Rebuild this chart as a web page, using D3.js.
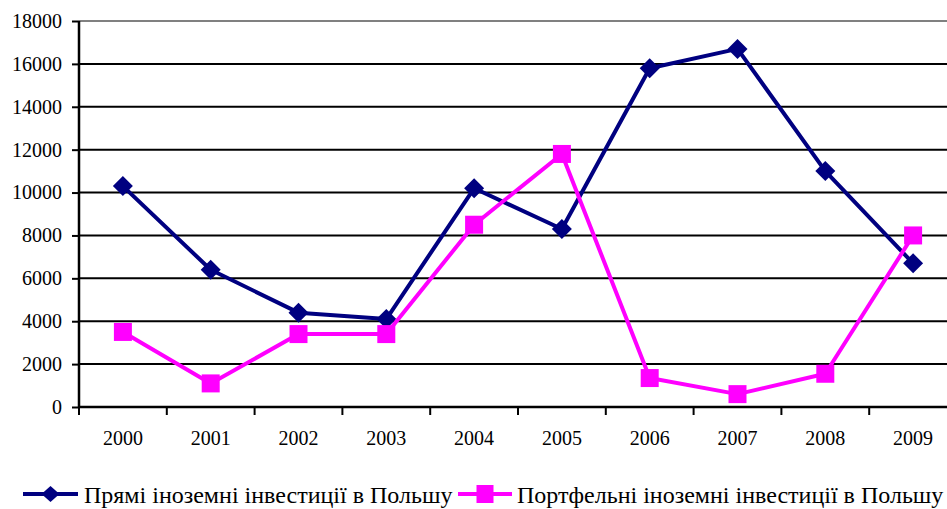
<!DOCTYPE html>
<html>
<head>
<meta charset="utf-8">
<script src="https://cdn.jsdelivr.net/npm/d3@7"></script>
</head>
<body style="margin:0">
<svg id="chart" width="947" height="509" font-family="Liberation Serif"></svg>
<script>
// Data
const years = ['2000', '2001', '2002', '2003', '2004', '2005', '2006', '2007', '2008', '2009'];
const directValues = [10300, 6400, 4400, 4100, 10200, 8300, 15800, 16700, 11000, 6700];
const portfolioValues = [3500, 1100, 3400, 3400, 8500, 11800, 1350, 600, 1550, 8000];
const yTicks = [0, 2000, 4000, 6000, 8000, 10000, 12000, 14000, 16000, 18000];
const seriesNames = ['Прямі іноземні інвестиції в Польшу', 'Портфельні іноземні інвестиції в Польшу'];

const colors = { direct: '#000080', portfolio: '#FF00FF' };
const serif = 'Liberation Serif';

(function() {
    const svg = d3.select('#chart');
    const plotLeft = 79, plotRight = 957, plotTop = 21, plotBottom = 407;

    const x = d3.scaleBand().domain(years).range([plotLeft, plotRight]);
    const y = d3.scaleLinear().domain([0, 18000]).range([plotBottom, plotTop]);

    // Gridlines
    svg.append('g')
        .selectAll('line')
        .data(yTicks.filter(d => d > 0))
        .enter()
        .append('line')
        .attr('x1', plotLeft)
        .attr('x2', 947)
        .attr('y1', d => y(d))
        .attr('y2', d => y(d))
        .attr('stroke', d => d === 18000 ? '#808080' : '#000')
        .attr('stroke-width', 2);

    // Y axis
    const yAxis = svg.append('g')
        .attr('transform', `translate(${plotLeft},0)`)
        .call(d3.axisLeft(y).tickValues(yTicks).tickSize(7).tickPadding(10).tickFormat(d3.format('d')));
    yAxis.attr('font-family', serif).attr('font-size', 20);
    yAxis.select('.domain').attr('stroke', '#000').attr('stroke-width', 2.5).attr('d', `M0,${plotTop}V${plotBottom}`);
    yAxis.selectAll('.tick line').attr('stroke', '#000').attr('stroke-width', 2);
    yAxis.selectAll('.tick text')
        .style('font-family', serif)
        .style('font-size', '20px')
        .style('fill', '#000');

    // X axis
    const xAxis = svg.append('g')
        .attr('transform', `translate(0,${plotBottom})`)
        .call(d3.axisBottom(x).tickSize(0).tickPadding(24));
    xAxis.attr('font-family', serif).attr('font-size', 20);
    xAxis.select('.domain').attr('stroke', '#000').attr('stroke-width', 2.5).attr('d', `M${plotLeft},0H947`);
    xAxis.selectAll('.tick text')
        .style('font-family', serif)
        .style('font-size', '20px')
        .style('fill', '#000');
    // tick marks between categories
    xAxis.append('g')
        .selectAll('line')
        .data(years)
        .enter()
        .append('line')
        .attr('x1', d => x(d))
        .attr('x2', d => x(d))
        .attr('y1', 0)
        .attr('y2', 8)
        .attr('stroke', '#000')
        .attr('stroke-width', 2);

    const cx = d => x(d) + x.bandwidth() / 2;

    function drawSeries(values, color, shape) {
        const pts = years.map((yr, i) => [cx(yr), y(values[i])]);
        svg.append('path')
            .attr('d', d3.line()(pts))
            .attr('fill', 'none')
            .attr('stroke', color)
            .attr('stroke-width', 4)
            .attr('stroke-linejoin', 'round');
        svg.append('g')
            .selectAll('path')
            .data(pts)
            .enter()
            .append('path')
            .attr('transform', d => `translate(${d[0]},${d[1]})`)
            .attr('d', shape)
            .attr('fill', color);
    }

    const diamond = 'M0,-10L10,0L0,10L-10,0Z';
    const square = 'M-9,-9H9V9H-9Z';

    drawSeries(directValues, colors.direct, diamond);
    drawSeries(portfolioValues, colors.portfolio, square);

    // Legend
    const legend = svg.append('g').attr('class', 'legend');
    const legendItems = [
        { name: seriesNames[0], color: colors.direct, shape: 'M0,-8L9,0L0,8L-9,0Z', x0: 23, x1: 78, tx: 84 },
        { name: seriesNames[1], color: colors.portfolio, shape: 'M-8.5,-9H8.5V9H-8.5Z', x0: 458, x1: 512, tx: 517 }
    ];
    const ly = 494;
    legendItems.forEach(item => {
        legend.append('line')
            .attr('x1', item.x0).attr('x2', item.x1)
            .attr('y1', ly).attr('y2', ly)
            .attr('stroke', item.color).attr('stroke-width', 4);
        legend.append('path')
            .attr('transform', `translate(${(item.x0 + item.x1) / 2},${ly})`)
            .attr('d', item.shape)
            .attr('fill', item.color);
        legend.append('text')
            .attr('x', item.tx).attr('y', ly + 9)
            .style('font-family', serif)
            .style('font-size', '24px')
            .style('fill', '#000')
            .text(item.name);
    });
})();
</script>
</body>
</html>
